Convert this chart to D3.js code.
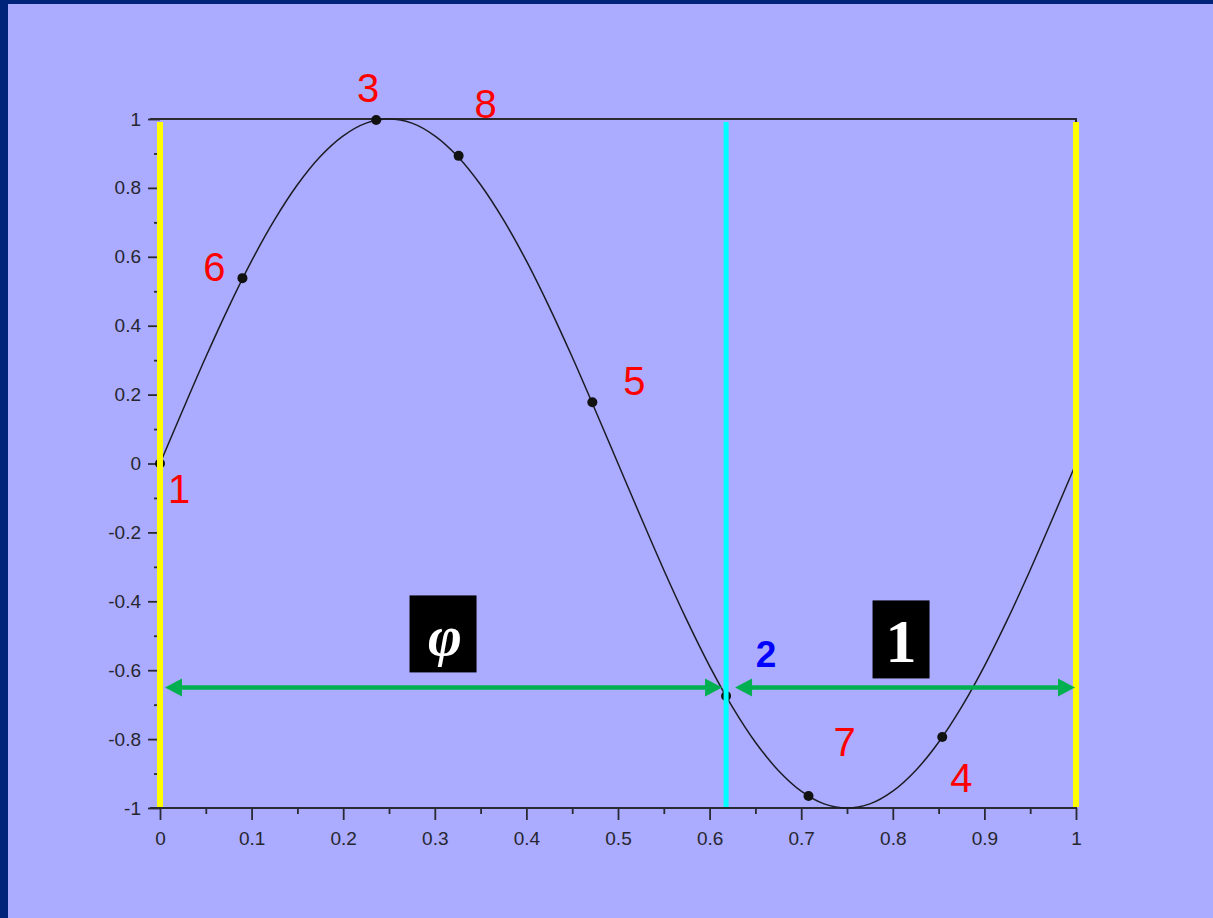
<!DOCTYPE html>
<html>
<head>
<meta charset="utf-8">
<script src="https://cdn.jsdelivr.net/npm/d3@7"></script>
<style>
  html, body { margin: 0; padding: 0; background: #002479; }
  svg { display: block; }
</style>
</head>
<body>
<svg id="chart" width="1213" height="918"></svg>
<script>
// Sine curve samples over one period
const curveX = [0, 0.025, 0.05, 0.075, 0.1, 0.125, 0.15, 0.175, 0.2, 0.225, 0.25, 0.275, 0.3, 0.325, 0.35, 0.375, 0.4, 0.425, 0.45, 0.475, 0.5,
                0.525, 0.55, 0.575, 0.6, 0.625, 0.65, 0.675, 0.7, 0.725, 0.75, 0.775, 0.8, 0.825, 0.85, 0.875, 0.9, 0.925, 0.95, 0.975, 1];
const curveY = [0, 0.156, 0.309, 0.454, 0.588, 0.707, 0.809, 0.891, 0.951, 0.988, 1, 0.988, 0.951, 0.891, 0.809, 0.707, 0.588, 0.454, 0.309, 0.156, 0,
                -0.156, -0.309, -0.454, -0.588, -0.707, -0.809, -0.891, -0.951, -0.988, -1, -0.988, -0.951, -0.891, -0.809, -0.707, -0.588, -0.454, -0.309, -0.156, 0];

// Marked points, in the order they are numbered
const pointLabels = ["1", "2", "3", "4", "5", "6", "7", "8"];
const pointX = [0, 0.618, 0.236, 0.854, 0.472, 0.090, 0.708, 0.326];
const pointY = [0, -0.675, 0.997, -0.794, 0.178, 0.538, -0.965, 0.893];

// Reference lines and the two spans along the golden section
const sectionX = 0.618;
const spanY = -0.65;
const spanLabels = ["\u03C6", "1"];

const xTicks = [0, 0.1, 0.2, 0.3, 0.4, 0.5, 0.6, 0.7, 0.8, 0.9, 1];
const xTickLabels = ["0", "0.1", "0.2", "0.3", "0.4", "0.5", "0.6", "0.7", "0.8", "0.9", "1"];
const yTicks = [-1, -0.8, -0.6, -0.4, -0.2, 0, 0.2, 0.4, 0.6, 0.8, 1];
const yTickLabels = ["-1", "-0.8", "-0.6", "-0.4", "-0.2", "0", "0.2", "0.4", "0.6", "0.8", "1"];

// ---- layout ----
const W = 1213, H = 918;
const plot = { left: 160, right: 1076, top: 119, bottom: 808 };

const svg = d3.select("#chart");

// slide background with dark frame on the left and top
svg.append("rect").attr("x", 0).attr("y", 0).attr("width", W).attr("height", H).attr("fill", "#002479");
svg.append("rect").attr("x", 8).attr("y", 4).attr("width", W - 8).attr("height", H - 4).attr("fill", "#ABABFF");

const x = d3.scaleLinear().domain([0, 1]).range([plot.left, plot.right]);
const y = d3.scaleLinear().domain([-1, 1]).range([plot.bottom, plot.top]);

const axisColor = "#2a2a35";
const font = "'Liberation Sans', Arial, sans-serif";

// bottom axis: major ticks with labels, minor ticks between
const xMinor = d3.range(0.05, 1, 0.1);
const gx = svg.append("g").attr("transform", `translate(0,${plot.bottom})`);
gx.call(d3.axisBottom(x).tickValues(xMinor).tickSize(6).tickFormat("").tickSizeOuter(0));
gx.call(g => g.select(".domain").remove());
const gx2 = svg.append("g").attr("transform", `translate(0,${plot.bottom})`);
gx2.call(d3.axisBottom(x).tickValues(xTicks).tickSize(12).tickPadding(12)
  .tickFormat((d, i) => xTickLabels[i]).tickSizeOuter(0));
gx2.select(".domain").remove();
svg.append("line").attr("x1", plot.left - 10).attr("x2", plot.right + 1)
  .attr("y1", plot.bottom).attr("y2", plot.bottom)
  .attr("stroke", axisColor).attr("stroke-width", 2);

// left axis
const yMinor = d3.range(-0.9, 1, 0.2);
const gy = svg.append("g").attr("transform", `translate(${plot.left},0)`);
gy.call(d3.axisLeft(y).tickValues(yMinor).tickSize(6).tickFormat("").tickSizeOuter(0));
gy.select(".domain").remove();
const gy2 = svg.append("g").attr("transform", `translate(${plot.left},0)`);
gy2.call(d3.axisLeft(y).tickValues(yTicks).tickSize(12).tickPadding(7)
  .tickFormat((d, i) => yTickLabels[i]).tickSizeOuter(0));
gy2.select(".domain").remove();

svg.selectAll(".tick line").attr("stroke", axisColor).attr("stroke-width", 1.8);
svg.selectAll(".tick text").attr("fill", "#262630").style("font-family", font).style("font-size", "19px");

// top frame line
svg.append("line").attr("x1", plot.left - 10).attr("x2", plot.right + 1)
  .attr("y1", plot.top).attr("y2", plot.top)
  .attr("stroke", axisColor).attr("stroke-width", 2);
svg.append("line").attr("x1", plot.right).attr("x2", plot.right)
  .attr("y1", plot.top).attr("y2", plot.top + 4)
  .attr("stroke", axisColor).attr("stroke-width", 2);

// sine curve
const line = d3.line().x((d, i) => x(curveX[i])).y(d => y(d)).curve(d3.curveCatmullRom);
svg.append("path").datum(curveY).attr("d", line)
  .attr("fill", "none").attr("stroke", "#1c1c24").attr("stroke-width", 1.5);

// marked points
svg.append("g").selectAll("circle").data(pointX).join("circle")
  .attr("cx", d => x(d)).attr("cy", (d, i) => y(pointY[i])).attr("r", 5)
  .attr("fill", "#111");

// vertical reference lines
svg.append("g").selectAll("line").data([0, 1]).join("line")
  .attr("x1", d => x(d)).attr("x2", d => x(d))
  .attr("y1", plot.top + 3).attr("y2", plot.bottom - 1)
  .attr("stroke", "#FFFF00").attr("stroke-width", 6);
svg.append("line").attr("x1", x(sectionX)).attr("x2", x(sectionX))
  .attr("y1", plot.top + 3).attr("y2", plot.bottom - 1)
  .attr("stroke", "#00FFFF").attr("stroke-width", 5);

// double-headed span arrows
const green = "#00B050";
function arrowHead(tipX, tipY, dir) {
  const len = 17, half = 9;
  return `M${tipX},${tipY} L${tipX - dir * len},${tipY - half} L${tipX - dir * len},${tipY + half} Z`;
}
const spans = [[0, sectionX], [sectionX, 1]];
const spanInset = [[5, 4], [9, 1]];
spans.forEach((s, i) => {
  const x0 = x(s[0]) + spanInset[i][0], x1 = x(s[1]) - spanInset[i][1], yy = y(spanY);
  svg.append("line").attr("x1", x0 + 10).attr("x2", x1 - 10).attr("y1", yy).attr("y2", yy)
    .attr("stroke", green).attr("stroke-width", 4.5);
  svg.append("path").attr("d", arrowHead(x0, yy, -1)).attr("fill", green);
  svg.append("path").attr("d", arrowHead(x1, yy, 1)).attr("fill", green);
});

// span captions in black boxes
const boxW = [67, 57], boxH = [77, 78], boxLift = [92, 87];
spans.forEach((s, i) => {
  const cx = (x(s[0]) + x(s[1])) / 2, yy = y(spanY);
  svg.append("rect").attr("x", cx - boxW[i] / 2).attr("y", yy - boxLift[i])
    .attr("width", boxW[i]).attr("height", boxH[i]).attr("fill", "#000");
  svg.append("text").attr("x", cx + (i === 0 ? 2 : 0)).attr("y", yy - boxLift[i] + (i === 0 ? 60 : 62))
    .attr("text-anchor", "middle").attr("fill", "#fff")
    .style("font-family", "'Liberation Serif', 'DejaVu Serif', serif")
    .style("font-weight", "bold").style("font-style", i === 0 ? "italic" : "normal")
    .style("font-size", i === 0 ? "58px" : "62px")
    .text(spanLabels[i]);
});

// point numbers
const labelOffset = [[19, 25], [40, -43], [-8, -32], [19, 41], [42, -21], [-28, -11], [36, -54], [27, -52]];
svg.append("g").selectAll("text").data(pointLabels).join("text")
  .attr("x", (d, i) => x(pointX[i]) + labelOffset[i][0])
  .attr("y", (d, i) => y(pointY[i]) + labelOffset[i][1] + 14)
  .attr("text-anchor", "middle")
  .attr("fill", d => d === "2" ? "#0000FF" : "#FF0000")
  .style("font-family", font)
  .style("font-weight", d => d === "2" ? "bold" : "normal")
  .style("font-size", d => d === "2" ? "37px" : "40px")
  .text(d => d);
</script>
</body>
</html>
